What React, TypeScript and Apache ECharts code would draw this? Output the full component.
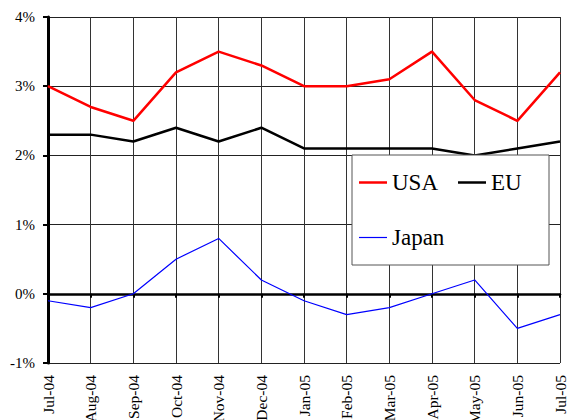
import React, { useEffect, useRef } from "react";
import * as echarts from "echarts";

const categories = ["Jul-04", "Aug-04", "Sep-04", "Oct-04", "Nov-04", "Dec-04", "Jan-05", "Feb-05", "Mar-05", "Apr-05", "May-05", "Jun-05", "Jul-05"];
const usa = [3.0, 2.7, 2.5, 3.2, 3.5, 3.3, 3.0, 3.0, 3.1, 3.5, 2.8, 2.5, 3.2];
const eu = [2.3, 2.3, 2.2, 2.4, 2.2, 2.4, 2.1, 2.1, 2.1, 2.1, 2.0, 2.1, 2.2];
const japan = [-0.1, -0.2, 0.0, 0.5, 0.8, 0.2, -0.1, -0.3, -0.2, 0.0, 0.2, -0.5, -0.3];

const FONT = "Liberation Serif";

export default function App() {
  const ref = useRef<HTMLDivElement>(null);
  useEffect(() => {
    if (!ref.current) return;
    const chart = echarts.init(ref.current, undefined, { renderer: "svg" });
    chart.setOption({
      animation: false,
      backgroundColor: "#fff",
      textStyle: { fontFamily: FONT },
      grid: { left: 48, right: 8, top: 17, bottom: 57, containLabel: false, outerBoundsMode: "none" },
      xAxis: [
        {
          type: "category",
          data: categories,
          boundaryGap: false,
          position: "bottom",
          axisLine: { show: false, onZero: false },
          axisTick: { show: false },
          axisLabel: { rotate: 90, fontFamily: FONT, fontSize: 15.5, color: "#000", margin: 12, interval: 0 },
          splitLine: { show: true, interval: 0, lineStyle: { color: "#333", width: 1 } },
        },
        {
          type: "category",
          data: categories,
          boundaryGap: false,
          position: "bottom",
          axisLine: { show: true, onZero: true, lineStyle: { color: "#000", width: 2.5 } },
          axisTick: { show: true, interval: 0, length: 4, lineStyle: { color: "#000", width: 2 } },
          axisLabel: { show: false },
          splitLine: { show: false },
        },
      ],
      yAxis: {
        type: "value",
        min: -1,
        max: 4,
        interval: 1,
        axisLine: { show: true, lineStyle: { color: "#000", width: 3 } },
        axisTick: { show: true, length: 5, lineStyle: { color: "#000", width: 2 } },
        axisLabel: { formatter: "{value}%", fontFamily: FONT, fontSize: 15, color: "#000", margin: 13 },
        splitLine: { show: true, lineStyle: { color: "#222", width: 1 } },
      },
      legend: [
        {
          data: ["USA", "EU"],
          left: 359,
          top: 171,
          icon: "rect",
          itemWidth: 28,
          itemHeight: 2.5,
          itemGap: 20,
          textStyle: { fontFamily: FONT, fontSize: 23, color: "#000" },
          padding: 0,
          selectedMode: false,
        },
        {
          data: ["Japan"],
          left: 359,
          top: 226,
          icon: "rect",
          itemWidth: 28,
          itemHeight: 1.2,
          textStyle: { fontFamily: FONT, fontSize: 23, color: "#000" },
          padding: 0,
          selectedMode: false,
        },
      ],
      graphic: [
        {
          type: "rect",
          z: 3,
          shape: { x: 352, y: 155, width: 197, height: 110 },
          style: { fill: "#fff", stroke: "#555", lineWidth: 1 },
        },
      ],
      series: [
        { name: "USA", type: "line", data: usa, showSymbol: false, lineStyle: { color: "#ff0000", width: 2.5 }, itemStyle: { color: "#ff0000" }, z: 2 },
        { name: "EU", type: "line", data: eu, showSymbol: false, lineStyle: { color: "#000", width: 2.5 }, itemStyle: { color: "#000" }, z: 2 },
        { name: "Japan", type: "line", data: japan, showSymbol: false, lineStyle: { color: "#0000ff", width: 1.2 }, itemStyle: { color: "#0000ff" }, z: 2 },
      ],
    });
    return () => chart.dispose();
  }, []);
  return <div ref={ref} style={{ width: 568, height: 420, position: "absolute", left: 0, top: 0 }} />;
}
